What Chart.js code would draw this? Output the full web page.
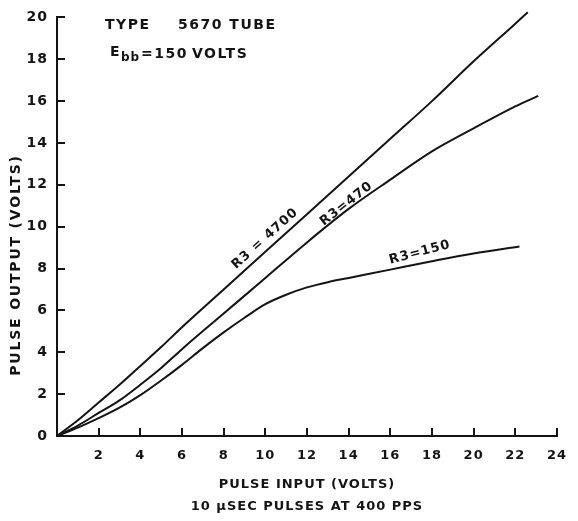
<!DOCTYPE html>
<html><head><meta charset="utf-8">
<script src="https://cdn.jsdelivr.net/npm/chart.js@4/dist/chart.umd.min.js"></script>
<style>html,body{margin:0;padding:0;background:#fff}</style>
</head><body>
<canvas id="c" width="578" height="521"></canvas>
<script>
// ---- data ----
const xTicks = [0,2,4,6,8,10,12,14,16,18,20,22,24];
const yTicks = [0,2,4,6,8,10,12,14,16,18,20];

const in4700  = [0,1,2,3,4,5,6,8,10,12,14,16,18,20,22,22.6];
const out4700 = [0,0.75,1.6,2.45,3.35,4.25,5.2,7.0,8.8,10.6,12.4,14.2,16.0,17.9,19.7,20.25];

const in470  = [0,1,2,3,4,5,6,8,10,12,14,16,18,20,22,23.1];
const out470 = [0,0.5,1.1,1.7,2.45,3.25,4.15,5.85,7.55,9.25,10.85,12.25,13.6,14.7,15.75,16.25];

const in150  = [0,1,2,3,4,5,6,7,8,9,10,11,12,13,14,15,16,18,20,22.2];
const out150 = [0,0.4,0.85,1.35,1.95,2.65,3.4,4.2,4.95,5.65,6.3,6.75,7.1,7.35,7.55,7.75,7.95,8.35,8.72,9.05];

const seriesNames = ['R3 = 4700','R3=470','R3=150'];
const labelAnchorX = [9.99, 13.9, 17.42];
const labelAnchorY = [9.43, 11.09, 8.77];
const labelAngles  = [-42, -38, -15];

const xTitle = 'PULSE INPUT (VOLTS)';
const xSubTitle = '10 μSEC PULSES AT 400 PPS';
const yTitle = 'PULSE OUTPUT (VOLTS)';

const INK = '#141414';
const FONT = '"DejaVu Sans", sans-serif';
const TICK = 7; // inward tick length in px

function pts(xs, ys){ return xs.map((v,i)=>({x:v, y:ys[i]})); }

const annotate = {
  id:'annotate',
  beforeDraw(chart){ chart.ctx.letterSpacing = '1px'; },
  afterDraw(chart){
    const ctx = chart.ctx;
    const sx = chart.scales.x, sy = chart.scales.y;
    ctx.save();
    ctx.fillStyle = INK;
    // curve labels
    ctx.font = 'bold 13px ' + FONT;
    ctx.letterSpacing = '1px';
    ctx.textAlign = 'center'; ctx.textBaseline = 'middle';
    seriesNames.forEach((t,i)=>{
      ctx.save();
      ctx.translate(sx.getPixelForValue(labelAnchorX[i]), sy.getPixelForValue(labelAnchorY[i]));
      ctx.rotate(labelAngles[i]*Math.PI/180);
      ctx.fillText(t, 0, 0);
      ctx.restore();
    });
    // header
    ctx.textAlign = 'left'; ctx.textBaseline = 'alphabetic';
    ctx.font = 'bold 14px ' + FONT;
    ctx.letterSpacing = '1.5px';
    ctx.fillText('TYPE', 105, 29);
    ctx.fillText('5670 TUBE', 178, 29);
    ctx.fillText('E', 110, 56);
    ctx.font = 'bold 12px ' + FONT;
    ctx.letterSpacing = '1px';
    ctx.fillText('bb', 121, 61);
    ctx.font = 'bold 14px ' + FONT;
    ctx.letterSpacing = '1.5px';
    ctx.fillText('=150', 141, 58);
    ctx.fillText('VOLTS', 192, 58);
    // y title
    ctx.save();
    ctx.translate(16, 265); ctx.rotate(-Math.PI/2);
    ctx.textAlign = 'center'; ctx.textBaseline = 'middle';
    ctx.font = 'bold 14px ' + FONT; ctx.letterSpacing = '1.8px';
    ctx.fillText(yTitle, 0, 0);
    ctx.restore();
    ctx.restore();
  }
};

const lineStyle = {borderColor: INK, borderWidth: 2, pointRadius: 0, showLine: true,
                   cubicInterpolationMode: 'monotone', clip: false, fill: false};

new Chart(document.getElementById('c'), {
  type: 'scatter',
  data: { datasets: [
    Object.assign({label: seriesNames[0], data: pts(in4700, out4700)}, lineStyle),
    Object.assign({label: seriesNames[1], data: pts(in470, out470)}, lineStyle),
    Object.assign({label: seriesNames[2], data: pts(in150, out150)}, lineStyle)
  ]},
  options: {
    responsive: false, animation: false, devicePixelRatio: 1,
    layout: {padding: {top: 14, right: 10, left: 0, bottom: 0}},
    plugins: {legend: {display: false}, tooltip: {enabled: false}},
    scales: {
      x: {
        type: 'linear', min: 0, max: 24,
        afterBuildTicks: s => { s.ticks = xTicks.map(v=>({value:v})); },
        afterFit: s => { s.height = 85; },
        ticks: {callback: v => v===0 ? '' : String(v), color: INK, padding: 12,
                font: {family: FONT, size: 13, weight: 'bold'}, maxRotation: 0, autoSkip: false},
        // grid lines dashed so that only the last TICK px (next to the axis) are visible -> inward ticks
        grid: {drawOnChartArea: true, drawTicks: false, color: INK, lineWidth: 2},
        border: {color: INK, width: 2, dash: [TICK, 3000],
                 dashOffset: c => { const a = c.chart.chartArea; return a ? -((a.bottom - a.top) - 1 - TICK) : 0; }},
        title: {display: true, text: [xTitle, xSubTitle], color: INK, padding: {top: 15},
                font: {family: FONT, size: 13, weight: 'bold', lineHeight: 1.65}}
      },
      y: {
        type: 'linear', min: 0, max: 20,
        afterBuildTicks: s => { s.ticks = yTicks.map(v=>({value:v})); },
        afterFit: s => { s.width = 57; },
        ticks: {color: INK, padding: 9, font: {family: FONT, size: 14, weight: 'bold'}, autoSkip: false},
        grid: {drawOnChartArea: true, drawTicks: false, color: INK, lineWidth: 2},
        border: {color: INK, width: 2, dash: [TICK, 3000], dashOffset: 0}
      }
    }
  },
  plugins: [annotate]
});
</script>
</body></html>
